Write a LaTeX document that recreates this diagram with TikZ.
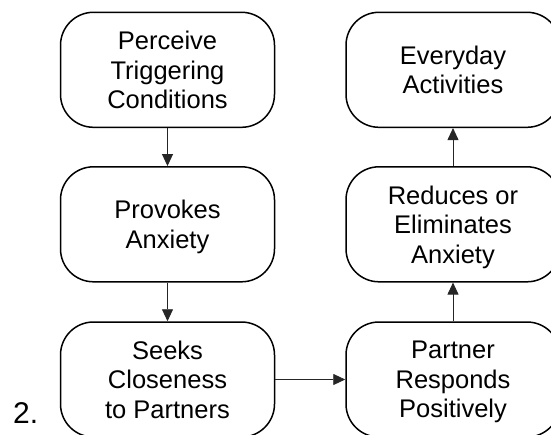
\documentclass[tikz,border=0pt]{standalone}
\usepackage{fontspec}
\setmainfont{Liberation Sans}
\usetikzlibrary{arrows.meta}
\begin{document}
\begin{tikzpicture}[x=1pt,y=1pt,
  stepbox/.style={draw=black, line width=1.5pt, rounded corners=33pt,
    minimum width=214pt, minimum height=115pt, inner sep=0pt,
    align=center, text depth=0pt, font=\fontsize{25.5}{29.5}\selectfont},
  flow/.style={draw=black!85, line width=0.9pt, -{Triangle[length=12pt,width=11pt]}}]
\useasboundingbox (0,0) rectangle (551,-434);
\clip (0,0) rectangle (551,-434);
\node[stepbox] (perceive) at (167.5,-69.8) {Perceive\\Triggering\\Conditions};
\node[stepbox] (provokes) at (167.5,-224.3) {Provokes\\Anxiety};
\node[stepbox] (seeks) at (167.5,-379.5) {Seeks\\Closeness\\to Partners};
\node[stepbox] (partner) at (453,-379.5) {Partner\\Responds\\Positively};
\node[stepbox] (reduces) at (453,-224.3) {Reduces or\\Eliminates\\Anxiety};
\node[stepbox] (everyday) at (453,-69.8) {Everyday\\Activities};
\node[anchor=base west, inner sep=0pt, font=\fontsize{30}{36}\selectfont] (num) at (13,-423.3) {2.};
\draw[flow] (perceive) -- (provokes);
\draw[flow] (provokes) -- (seeks);
\draw[flow] (seeks) -- (partner);
\draw[flow] (partner) -- (reduces);
\draw[flow] (reduces) -- (everyday);
\end{tikzpicture}
\end{document}
